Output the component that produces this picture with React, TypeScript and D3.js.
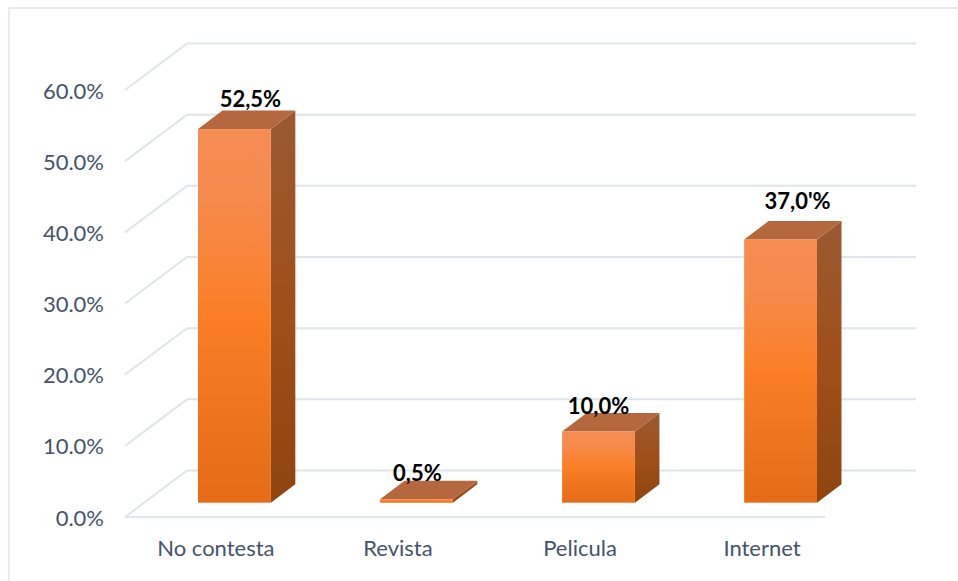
import React from "react";
import * as d3 from "d3";

const categories = ["No contesta", "Revista", "Pelicula", "Internet"];
const values = [52.5, 0.5, 10.0, 37.0];
const valueLabels = ["52,5%", "0,5%", "10,0%", "37,0'%"];
const labelOffsets = [[16, -22], [1, -18], [0, -17.6], [17, -30]];
const ticks = [0, 10, 20, 30, 40, 50, 60];

const W = 958, H = 581;
const DX = 24.5, DY = -18.5; // bar depth
const WX = 62, WY = -46.5; // wall depth
const floorFront = 517;
const barBase = 502.7;
const y = d3.scaleLinear().domain([0, 60]).range([0, -427]);
const x = d3.scaleBand().domain(categories).range([143.4, 871.6]).paddingInner(0.6).paddingOuter(0.3);
const grid = "#e0e4eb";
const text = "#44546a";
const font = "Lato, Carlito, 'Open Sans', sans-serif";

const pts = (a: number[][]) => a.map((p) => p.join(",")).join(" ");

export default function App() {
  return (
    <svg width={W} height={H} viewBox={`0 0 ${W} ${H}`} style={{ position: "absolute", left: 0, top: 0, display: "block", background: "#fff" }}>
      <defs>
        {values.map((v, i) => (
          <React.Fragment key={i}>
            <linearGradient id={`front${i}`} x1="0" y1="0" x2="0" y2="1">
              <stop offset="0" stopColor="#f58c52" />
              <stop offset="0.17" stopColor="#f68b4e" />
              <stop offset="0.5" stopColor="#fb7e26" />
              <stop offset="1" stopColor="#e56b17" />
            </linearGradient>
            <linearGradient id={`side${i}`} x1="0" y1="0" x2="0" y2="1">
              <stop offset="0" stopColor="#9a5a32" />
              <stop offset="0.5" stopColor="#9f4f1a" />
              <stop offset="1" stopColor="#8e450f" />
            </linearGradient>
          </React.Fragment>
        ))}
      </defs>
      <rect x={9} y={8} width={W + 20} height={H + 20} fill="none" stroke={grid} strokeWidth={1.5} />
      {ticks.map((t) => (
        <g key={t}>
          <polyline
            points={pts([
              [125, floorFront + y(t)],
              [125 + WX, floorFront + y(t) + WY],
              [916, floorFront + y(t) + WY],
            ])}
            fill="none"
            stroke={grid}
            strokeWidth={2}
          />
          <text x={104} y={floorFront + y(t) + 8.5} textAnchor="end" fontFamily={font} fontSize={22} fill={text}>
            {t.toFixed(1)}%
          </text>
        </g>
      ))}
      <line x1={125} x2={825} y1={floorFront} y2={floorFront} stroke={grid} strokeWidth={2} />
      {categories.map((c, i) => {
        const x0 = x(c)!;
        const x1 = x0 + x.bandwidth();
        const top = barBase + y(values[i]);
        return (
          <g key={c}>
            <polygon points={pts([[x1, barBase], [x1 + DX, barBase + DY], [x1 + DX, top + DY], [x1, top]])} fill={`url(#side${i})`} />
            <polygon points={pts([[x0, top], [x0 + DX, top + DY], [x1 + DX, top + DY], [x1, top]])} fill="#b5673d" />
            <rect x={x0} y={top} width={x.bandwidth()} height={barBase - top} fill={`url(#front${i})`} />
          </g>
        );
      })}
      {categories.map((c, i) => {
        const x0 = x(c)!;
        const top = barBase + y(values[i]);
        return (
          <text
            key={c}
            x={x0 + x.bandwidth() / 2 + labelOffsets[i][0]}
            y={top + labelOffsets[i][1]}
            textAnchor="middle"
            fontFamily={font}
            fontSize={22}
            fontWeight={700}
            fill="#000"
          >
            {valueLabels[i]}
          </text>
        );
      })}
      {categories.map((c) => (
        <text key={c} x={x(c)! + x.bandwidth() / 2 - 18.5} y={556} textAnchor="middle" fontFamily={font} fontSize={22} fill={text}>
          {c}
        </text>
      ))}
    </svg>
  );
}
